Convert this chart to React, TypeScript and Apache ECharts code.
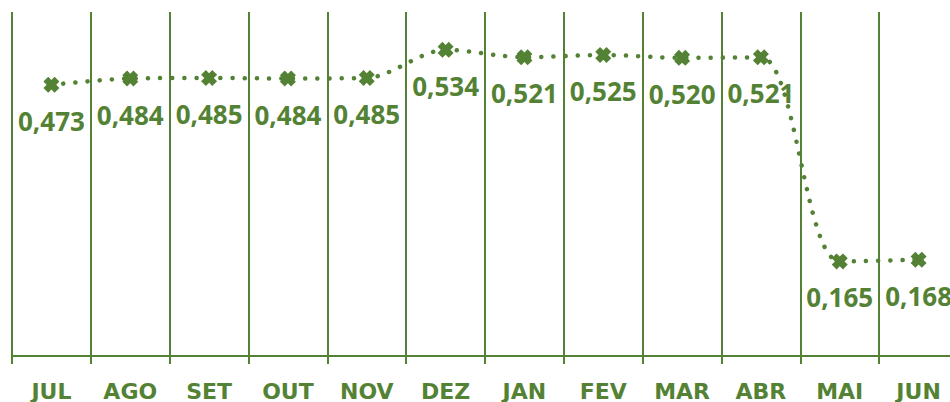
import React, { useEffect, useRef } from "react";
import * as echarts from "echarts";

const months = ["JUL", "AGO", "SET", "OUT", "NOV", "DEZ", "JAN", "FEV", "MAR", "ABR", "MAI", "JUN"];
const values = [0.473, 0.484, 0.485, 0.484, 0.485, 0.534, 0.521, 0.525, 0.52, 0.521, 0.165, 0.168];

const GREEN = "#548235";
const XMARK = "path://M0,3 L3,0 L5,2 L7,0 L10,3 L8,5 L10,7 L7,10 L5,8 L3,10 L0,7 L2,5 Z";

export default function App() {
  const ref = useRef<HTMLDivElement>(null);
  useEffect(() => {
    if (!ref.current) return;
    const chart = echarts.init(ref.current, undefined, { renderer: "svg" });
    chart.setOption({
      animation: false,
      backgroundColor: "#ffffff",
      grid: { left: 12, right: 0, top: 12, bottom: 45, containLabel: false },
      xAxis: {
        type: "category",
        data: months,
        boundaryGap: true,
        axisLine: { show: true, lineStyle: { color: GREEN, width: 2 } },
        axisTick: { show: true, length: 8, lineStyle: { color: GREEN, width: 2 } },
        splitLine: { show: true, interval: 0, lineStyle: { color: GREEN, width: 2 } },
        axisLabel: {
          interval: 0,
          color: GREEN,
          fontFamily: "DejaVu Sans",
          fontWeight: "bold",
          fontSize: 22,
          margin: 24,
        },
      },
      yAxis: {
        type: "value",
        min: 0,
        max: 0.6,
        show: false,
        splitLine: { show: false },
      },
      series: [
        {
          type: "line",
          data: values,
          smooth: 0.3,
          symbol: XMARK,
          symbolSize: 16,
          itemStyle: { color: GREEN },
          lineStyle: { color: GREEN, width: 4.5, type: [0.1, 12], cap: "round" },
          label: {
            show: true,
            position: "bottom",
            distance: 15,
            color: GREEN,
            fontFamily: "Open Sans",
            fontWeight: "bold",
            fontSize: 26,
            formatter: (p: any) => Number(p.value).toFixed(3).replace(".", ","),
          },
        },
      ],
    });
    return () => chart.dispose();
  }, []);
  return (
    <div
      style={{ position: "fixed", left: 0, top: 0, width: 950, height: 402, overflow: "hidden" }}
    >
      <div ref={ref} style={{ width: 958, height: 402 }} />
    </div>
  );
}
